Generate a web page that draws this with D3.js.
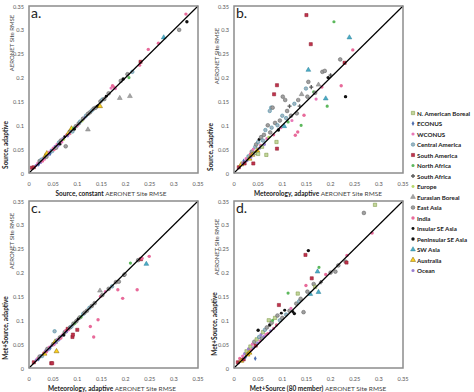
<!DOCTYPE html>
<html>
<head>
<meta charset="utf-8">
<script src="https://cdn.jsdelivr.net/npm/d3@7"></script>
<style>
body { margin: 0; background: #fff; }
text { font-family: Lato, "Open Sans", sans-serif; }
</style>
</head>
<body>
<script>
// regions (legend order) and marker style per region
var regions = ["N. American Boreal", "ECONUS", "WCONUS", "Central America", "South America",
  "North Africa", "South Africa", "Europe", "Eurasian Boreal", "East Asia", "India",
  "Insular SE Asia", "Peninsular SE Asia", "SW Asia", "Australia", "Ocean"];

var ticks = [0, 0.05, 0.1, 0.15, 0.2, 0.25, 0.3, 0.35];
var tickLabels = ["0", "0.05", "0.1", "0.15", "0.2", "0.25", "0.3", "0.35"];

// [x, y, region index]
var panelA = [[0.006,0.011,4],[0.01,0.012,4],[0.015,0.016,15],[0.018,0.02,2],[0.02,0.018,1],[0.022,0.025,9],[0.024,0.022,15],[0.026,0.028,3],[0.028,0.025,10],[0.03,0.031,15],[0.032,0.029,2],[0.034,0.036,14],[0.036,0.034,9],[0.037,0.041,14],[0.04,0.038,15],[0.042,0.044,2],[0.044,0.041,1],[0.046,0.048,15],[0.048,0.046,3],[0.05,0.052,2],[0.052,0.049,10],[0.054,0.056,15],[0.056,0.053,9],[0.058,0.06,2],[0.06,0.057,15],[0.062,0.064,3],[0.064,0.061,12],[0.066,0.068,9],[0.068,0.065,2],[0.07,0.072,15],[0.072,0.07,7],[0.074,0.076,11],[0.076,0.056,9],[0.078,0.08,10],[0.08,0.078,15],[0.082,0.084,14],[0.084,0.082,2],[0.086,0.088,9],[0.088,0.093,14],[0.09,0.087,3],[0.092,0.094,5],[0.094,0.092,12],[0.097,0.098,9],[0.1,0.099,2],
  [0.103,0.104,9],[0.106,0.108,3],[0.11,0.109,7],[0.112,0.114,9],[0.116,0.117,15],[0.118,0.12,3],[0.122,0.091,8],[0.122,0.124,9],[0.126,0.127,9],[0.13,0.131,3],[0.134,0.135,9],[0.138,0.137,9],[0.142,0.14,12],[0.147,0.14,14],[0.148,0.15,9],[0.152,0.154,3],[0.156,0.155,9],[0.16,0.161,11],[0.165,0.167,9],[0.17,0.178,2],[0.173,0.183,10],[0.176,0.18,10],[0.179,0.177,2],[0.188,0.157,8],[0.19,0.193,9],[0.195,0.197,12],[0.204,0.207,9],[0.207,0.2,5],[0.209,0.161,8],[0.214,0.212,3],[0.229,0.226,10],[0.231,0.233,4],[0.247,0.259,10],[0.268,0.272,10],[0.279,0.284,13],[0.311,0.3,9],[0.325,0.333,10],[0.327,0.317,12]];

var panelB = [[0.01,0.012,4],[0.015,0.018,14],[0.018,0.02,15],[0.02,0.025,1],[0.022,0.02,4],[0.025,0.03,2],[0.027,0.026,15],[0.03,0.035,3],[0.032,0.03,14],[0.034,0.04,10],[0.035,0.033,15],[0.037,0.045,9],[0.038,0.038,14],[0.04,0.05,2],[0.04,0.02,4],[0.042,0.04,15],[0.044,0.055,3],[0.045,0.042,0],[0.046,0.06,9],[0.048,0.047,14],[0.05,0.065,3],[0.05,0.04,0],[0.052,0.07,11],[0.053,0.052,15],[0.055,0.058,2],[0.056,0.075,9],[0.058,0.055,0],[0.06,0.068,3],[0.062,0.08,9],[0.063,0.06,15],[0.065,0.09,3],[0.067,0.038,0],[0.068,0.072,2],[0.07,0.1,9],[0.072,0.075,7],[0.074,0.13,3],[0.075,0.085,9],[0.077,0.137,3],[0.078,0.095,3],[0.08,0.137,9],[0.082,0.08,10],[0.083,0.165,4],[0.085,0.105,9],[0.088,0.065,0],[0.089,0.051,4],[0.089,0.184,4],[0.09,0.1,3],[0.092,0.09,12],[0.095,0.11,9],[0.097,0.095,2],[0.1,0.12,3],[0.101,0.16,9],[0.104,0.098,13],[0.106,0.153,9],[0.108,0.115,3],[0.11,0.13,9],[0.112,0.107,5],[0.115,0.14,6],[0.118,0.12,9],[0.12,0.11,2],[0.125,0.145,3],[0.127,0.079,10],[0.13,0.125,9],[0.132,0.086,10],[0.133,0.153,9],[0.136,0.14,6],[0.139,0.1,5],[0.14,0.165,8],[0.145,0.121,10],[0.149,0.177,3],[0.15,0.331,4],[0.152,0.16,9],[0.154,0.191,9],[0.154,0.216,13],[0.159,0.27,4],[0.16,0.18,6],[0.165,0.17,5],[0.168,0.168,9],[0.17,0.155,2],[0.175,0.185,8],[0.182,0.18,10],[0.183,0.212,9],[0.188,0.214,9],[0.19,0.156,13],[0.193,0.14,5],[0.195,0.2,12],[0.2,0.205,6],[0.207,0.317,5],[0.22,0.238,9],[0.222,0.183,10],[0.229,0.231,4],[0.231,0.16,12],[0.239,0.284,13],[0.246,0.258,10]];

var panelC = [[0.01,0.012,4],[0.015,0.017,15],[0.018,0.02,2],[0.02,0.019,1],[0.022,0.024,9],[0.025,0.026,15],[0.027,0.025,3],[0.03,0.031,2],[0.032,0.03,14],[0.034,0.036,15],[0.036,0.034,10],[0.038,0.04,9],[0.04,0.038,15],[0.042,0.044,2],[0.044,0.042,1],[0.046,0.01,4],[0.047,0.047,15],[0.048,0.01,4],[0.05,0.05,9],[0.052,0.049,2],[0.053,0.077,3],[0.054,0.055,14],[0.056,0.053,15],[0.057,0.035,14],[0.058,0.058,3],[0.06,0.06,2],[0.062,0.059,15],[0.064,0.064,9],[0.066,0.063,10],[0.068,0.068,15],[0.07,0.07,2],[0.072,0.069,12],[0.074,0.075,9],[0.076,0.078,10],[0.078,0.076,15],[0.08,0.082,4],[0.082,0.08,2],[0.085,0.085,9],[0.088,0.087,3],[0.09,0.065,4],[0.091,0.07,4],[0.092,0.093,9],[0.095,0.094,5],[0.098,0.098,9],[0.1,0.08,4],[0.102,0.103,12],[0.105,0.106,9],[0.108,0.107,5],[0.112,0.113,3],[0.115,0.116,9],[0.12,0.12,9],[0.125,0.126,3],[0.127,0.087,10],[0.13,0.13,9],[0.134,0.065,10],[0.136,0.136,9],[0.143,0.101,10],[0.147,0.162,8],[0.148,0.15,10],[0.152,0.153,9],[0.158,0.16,2],[0.165,0.166,9],[0.172,0.171,3],[0.18,0.18,9],[0.184,0.164,10],[0.186,0.181,9],[0.194,0.146,10],[0.197,0.195,12],[0.198,0.196,9],[0.21,0.22,5],[0.224,0.164,10],[0.226,0.226,9],[0.232,0.228,4],[0.234,0.23,10],[0.243,0.218,13],[0.249,0.234,10]];

var panelD = [[0.008,0.012,4],[0.012,0.02,10],[0.015,0.015,14],[0.018,0.025,2],[0.02,0.018,4],[0.022,0.03,15],[0.024,0.023,1],[0.026,0.035,0],[0.028,0.028,14],[0.03,0.04,15],[0.032,0.032,14],[0.034,0.045,0],[0.036,0.038,10],[0.038,0.05,2],[0.04,0.042,15],[0.042,0.055,9],[0.044,0.02,1],[0.045,0.047,4],[0.047,0.06,0],[0.049,0.052,15],[0.05,0.079,12],[0.052,0.065,3],[0.054,0.057,2],[0.056,0.07,15],[0.058,0.062,9],[0.06,0.075,0],[0.062,0.066,15],[0.064,0.08,3],[0.066,0.07,2],[0.068,0.085,9],[0.07,0.072,10],[0.072,0.1,0],[0.074,0.09,12],[0.076,0.078,15],[0.078,0.095,9],[0.08,0.1,5],[0.082,0.083,2],[0.085,0.105,0],[0.088,0.09,10],[0.09,0.11,9],[0.093,0.132,4],[0.095,0.1,3],[0.098,0.115,11],[0.1,0.105,9],[0.105,0.121,11],[0.108,0.112,3],[0.112,0.157,5],[0.115,0.12,9],[0.118,0.125,2],[0.122,0.118,11],[0.125,0.114,12],[0.129,0.135,9],[0.132,0.156,0],[0.135,0.14,3],[0.138,0.145,9],[0.144,0.117,9],[0.148,0.237,4],[0.149,0.173,10],[0.152,0.16,9],[0.154,0.246,12],[0.158,0.155,13],[0.161,0.188,4],[0.165,0.176,9],[0.168,0.17,0],[0.173,0.202,13],[0.175,0.159,13],[0.176,0.211,5],[0.18,0.18,6],[0.19,0.196,10],[0.2,0.2,9],[0.21,0.202,9],[0.216,0.215,9],[0.231,0.223,9],[0.233,0.221,4],[0.234,0.236,10],[0.269,0.325,9],[0.286,0.283,10],[0.292,0.342,0]];

var markers = [
  {type: d3.symbolSquare, fill: "#c3d69b", stroke: "#77933c", size: 11},
  {type: d3.symbolDiamond, fill: "#4f6fb0", stroke: "none", size: 7},
  {type: d3.symbolCircle, fill: "#e878b8", stroke: "none", size: 8},
  {type: d3.symbolCircle, fill: "#a6b4c0", stroke: "#31859c", size: 10},
  {type: d3.symbolSquare, fill: "#c0334d", stroke: "#8b1a2b", size: 10},
  {type: d3.symbolCircle, fill: "#5cb85c", stroke: "none", size: 8},
  {type: d3.symbolCross, fill: "#595959", stroke: "none", size: 9},
  {type: d3.symbolCircle, fill: "#b8d86b", stroke: "none", size: 7},
  {type: d3.symbolTriangle, fill: "#a5a5a5", stroke: "#7f7f7f", size: 10},
  {type: d3.symbolCircle, fill: "#a0a0a0", stroke: "#595959", size: 11},
  {type: d3.symbolCircle, fill: "#e86a9a", stroke: "none", size: 9},
  {type: d3.symbolCircle, fill: "#111", stroke: "none", size: 7},
  {type: d3.symbolCircle, fill: "#111", stroke: "none", size: 9},
  {type: d3.symbolTriangle, fill: "#4bacc6", stroke: "#31859c", size: 10},
  {type: d3.symbolTriangle, fill: "#ffd21f", stroke: "#7f6000", size: 11},
  {type: d3.symbolCircle, fill: "#9b7fd0", stroke: "none", size: 8}
];

var panels = [
  {data: panelA, letter: "a.", x0: 29, y0: 6, xb: "Source, constant", yb: "Source, adaptive",
   xt: 111, ybx: 5, yby: 145, yrx: 11, yry: 43},
  {data: panelB, letter: "b.", x0: 234, y0: 6, xb: "Meteorology, adaptive", yb: "Source, adaptive",
   xt: 318, ybx: 210, yby: 147, yrx: 216, yry: 56},
  {data: panelC, letter: "c.", x0: 29, y0: 201, xb: "Meteorology, adaptive", yb: "Met+Source, adaptive",
   xt: 112, ybx: 5, yby: 328, yrx: 11, yry: 241},
  {data: panelD, letter: "d.", x0: 234, y0: 201, xb: "Met+Source (80 member)", yb: "Met+Source, adaptive",
   xt: 318, ybx: 214, yby: 324, yrx: 216, yry: 247}
];

var W = 474, H = 392, pw = 169, ph = 167;

var svg = d3.select("body").append("svg")
.attr("width", W)
.attr("height", H);

panels.forEach(function(p) {
  var x = d3.scaleLinear().domain([0, 0.35]).range([p.x0, p.x0 + pw]);
  var y = d3.scaleLinear().domain([0, 0.35]).range([p.y0 + ph, p.y0]);
  var g = svg.append("g");

  // y ticks
  g.selectAll(".yt").data(ticks).enter().append("text")
  .attr("x", p.x0 - 5)
  .attr("y", function(d) { return y(d); })
  .attr("text-anchor", "end")
  .attr("dominant-baseline", "central")
  .style("font-size", "5.6px")
  .style("fill", "#595959")
  .text(function(d, i) { return tickLabels[i]; });
  // x ticks
  g.selectAll(".xt").data(ticks).enter().append("text")
  .attr("x", function(d) { return x(d); })
  .attr("y", p.y0 + ph + 10)
  .attr("text-anchor", "middle")
  .attr("dominant-baseline", "central")
  .style("font-size", "5.6px")
  .style("fill", "#595959")
  .text(function(d, i) { return tickLabels[i]; });

  // points
  g.selectAll("path.pt").data(p.data).enter().append("path")
  .attr("class", "pt")
  .attr("transform", function(d) { return "translate(" + x(d[0]) + "," + y(d[1]) + ")"; })
  .attr("d", function(d) { var m = markers[d[2]]; return d3.symbol().type(m.type).size(m.size)(); })
  .attr("fill", function(d) { return markers[d[2]].fill; })
  .attr("stroke", function(d) { return markers[d[2]].stroke; })
  .attr("stroke-width", 0.5);

  // 1:1 line
  g.append("line")
  .attr("x1", x(0)).attr("y1", y(0))
  .attr("x2", x(0.35)).attr("y2", y(0.35))
  .attr("stroke", "#000")
  .attr("stroke-width", 1.2);

  // frame
  g.append("rect")
  .attr("x", p.x0).attr("y", p.y0)
  .attr("width", pw).attr("height", ph)
  .attr("fill", "none")
  .attr("stroke", "#8c8c8c")
  .attr("stroke-width", 1.5);

  g.append("text")
  .attr("x", p.x0 + 2)
  .attr("y", p.y0 + 12)
  .style("font-size", "14px")
  .style("fill", "#222")
  .text(p.letter);

  // x title
  var xt = g.append("text")
  .attr("x", p.xt)
  .attr("y", p.y0 + ph + 20)
  .attr("text-anchor", "middle")
  .attr("dominant-baseline", "central")
  .style("font-size", "6.5px");
  xt.append("tspan").style("font-weight", "bold").style("fill", "#222").text(p.xb + " ");
  xt.append("tspan").style("fill", "#444").text(" AERONET Site RMSE");

  // y titles (two separate boxes)
  g.append("text")
  .attr("transform", "translate(" + p.ybx + "," + p.yby + "),rotate(-90)")
  .attr("text-anchor", "middle")
  .attr("dominant-baseline", "central")
  .style("font-size", "6.5px")
  .style("font-weight", "bold")
  .style("fill", "#222")
  .text(p.yb);
  g.append("text")
  .attr("transform", "translate(" + p.yrx + "," + p.yry + "),rotate(-90)")
  .attr("text-anchor", "middle")
  .attr("dominant-baseline", "central")
  .style("font-size", "6px")
  .style("fill", "#444")
  .text("AERONET Site RMSE");
});

// legend
var leg = svg.append("g");
leg.selectAll("path").data(regions).enter().append("path")
.attr("transform", function(d, i) { return "translate(413," + (113 + i * 10.5) + ")"; })
.attr("d", function(d, i) { return d3.symbol().type(markers[i].type).size(markers[i].size)(); })
.attr("fill", function(d, i) { return markers[i].fill; })
.attr("stroke", function(d, i) { return markers[i].stroke; })
.attr("stroke-width", 0.5);
leg.selectAll("text").data(regions).enter().append("text")
.attr("x", 417)
.attr("y", function(d, i) { return 113 + i * 10.5; })
.attr("dominant-baseline", "central")
.style("font-size", "6.2px")
.style("font-weight", "bold")
.style("fill", "#222")
.text(function(d) { return d; });
</script>
</body>
</html>
